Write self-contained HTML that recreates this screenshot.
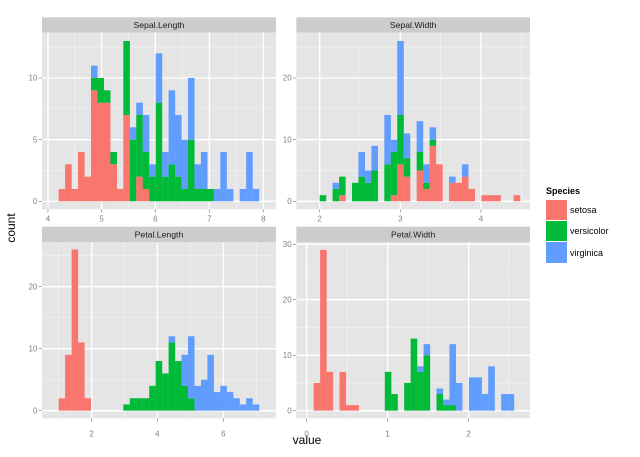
<!DOCTYPE html>
<html><head><meta charset="utf-8"><style>
body{margin:0;background:#fff}
svg{display:block}
text{font-family:"Liberation Sans",sans-serif}
</style></head><body>
<svg id="s" width="640" height="457" xmlns="http://www.w3.org/2000/svg">
<text x="307" y="444" font-size="12" text-anchor="middle">value</text>
<text transform="translate(15,228) rotate(-90)" font-size="12" text-anchor="middle">count</text>
<text x="546" y="194" font-size="9" font-weight="bold">Species</text>
<rect x="546" y="200" width="21" height="20" fill="#F8766D"/>
<rect x="546" y="221" width="21" height="20" fill="#00BA38"/>
<rect x="546" y="242" width="21" height="21" fill="#619CFF"/>
<text x="570" y="213" font-size="9">setosa</text>
<text x="570" y="234" font-size="9">versicolor</text>
<text x="570" y="256" font-size="9">virginica</text>
</svg>
<script>
const NS="http://www.w3.org/2000/svg",S=document.getElementById('s');
const C=["#F8766D","#00BA38","#619CFF"];
const P=[
{o:[0,0],px:[126,828],py:[98,628],sy:52,title:"Sepal.Length",xt:[[144,4],[305,5],[466,6],[628,7],[790,8]],xm:[224.5,385.5,547,709],yt:[[604,0],[419,5],[234,10]],ym:[511.5,326.5,141.5],xl:652,
 x0:176,base:604,k:37,bins:[[1,0,0],[3,0,0],[1,0,0],[4,0,0],[2,0,0],[9,1,1],[8,2,0],[8,1,0],[3,1,0],[1,0,0],[7,6,0],[0,5,1],[2,5,1],[1,3,3],[0,2,1],[0,8,4],[0,2,2],[0,3,6],[0,2,5],[0,1,4],[0,5,5],[0,1,2],[0,1,3],[0,1,0],[0,0,1],[0,0,4],[0,0,1],[0,0,0],[0,0,1],[0,0,4],[0,0,1]]},
{o:[270,0],px:[79,780],py:[98,628],sy:52,title:"Sepal.Width",xt:[[149,2],[391,3],[633,4]],xm:[270,512,754],yt:[[604,0],[419,10],[234,20]],ym:[511.5,326.5,141.5],xl:652,
 x0:149,base:604,k:18.5,bins:[[0,1,0],[0,0,0],[0,2,1],[1,3,0],[0,0,0],[0,3,0],[0,4,4],[0,3,2],[0,5,4],[0,0,0],[0,6,8],[1,7,2],[6,8,12],[4,3,4],[0,0,0],[5,3,5],[2,1,3],[9,1,2],[6,0,0],[0,0,0],[3,0,1],[3,0,0],[4,0,2],[2,0,0],[0,0,0],[1,0,0],[1,0,0],[1,0,0],[0,0,0],[0,0,0],[1,0,0]]},
{o:[0,220],px:[126,828],py:[67,595],sy:20,title:"Petal.Length",xt:[[275,2],[472,4],[670,6]],xm:[176,373,571,769],yt:[[572,0],[386,10],[200,20]],ym:[479,293,107],xl:637,
 x0:176,base:572,k:18.6,bins:[[2,0,0],[9,0,0],[26,0,0],[11,0,0],[2,0,0],[0,0,0],[0,0,0],[0,0,0],[0,0,0],[0,0,0],[0,1,0],[0,2,0],[0,2,0],[0,2,0],[0,4,0],[0,8,0],[0,6,0],[0,11,1],[0,8,0],[0,4,5],[0,2,10],[0,0,4],[0,0,5],[0,0,9],[0,0,3],[0,0,4],[0,0,3],[0,0,2],[0,0,1],[0,0,2],[0,0,1]]},
{o:[270,220],px:[79,780],py:[67,595],sy:20,title:"Petal.Width",xt:[[110,0],[353,1],[596,2]],xm:[231,474,717],yt:[[572,0],[406,10],[239,20],[73,30]],ym:[489,323,156],xl:637,
 x0:131,base:572,k:16.63,bins:[[5,0,0],[29,0,0],[7,0,0],[0,0,0],[7,0,0],[1,0,0],[1,0,0],[0,0,0],[0,0,0],[0,0,0],[0,0,0],[0,7,0],[0,3,0],[0,0,0],[0,5,0],[0,13,0],[0,7,1],[0,10,2],[0,0,0],[0,3,1],[0,1,1],[0,1,11],[0,0,5],[0,0,0],[0,0,6],[0,0,6],[0,0,3],[0,0,8],[0,0,0],[0,0,3],[0,0,3]]}
];
function el(p,n,a,t){const e=document.createElementNS(NS,n);for(const k in a)e.setAttribute(k,a[k]);if(t!=null)e.textContent=t;p.appendChild(e);return e;}
P.forEach(p=>{
 const g=el(S,'g',{transform:`translate(${p.o[0]},${p.o[1]}) scale(0.3333)`});
 const [a,b]=p.px,[c,d]=p.py;
 el(g,'rect',{x:a,y:p.sy,width:b-a,height:c-p.sy,fill:'#CCCCCC'});
 el(g,'text',{x:(a+b)/2,y:p.sy+(c-p.sy)/2+9,'font-size':26,'text-anchor':'middle',fill:'#1a1a1a'},p.title);
 el(g,'rect',{x:a,y:c,width:b-a,height:d-c,fill:'#E5E5E5'});
 p.xm.forEach(x=>el(g,'line',{x1:x,x2:x,y1:c,y2:d,stroke:'#F2F2F2','stroke-width':2}));
 p.ym.forEach(y=>el(g,'line',{x1:a,x2:b,y1:y,y2:y,stroke:'#F2F2F2','stroke-width':2}));
 p.xt.forEach(([x,l])=>{el(g,'line',{x1:x,x2:x,y1:c,y2:d,stroke:'#fff','stroke-width':4});
  el(g,'line',{x1:x,x2:x,y1:d,y2:d+10,stroke:'#7F7F7F','stroke-width':2});
  el(g,'text',{x:x,y:p.xl+12,'font-size':24,'text-anchor':'middle',fill:'#7F7F7F'},l);});
 p.yt.forEach(([y,l])=>{el(g,'line',{x1:a,x2:b,y1:y,y2:y,stroke:'#fff','stroke-width':4});
  el(g,'line',{x1:a-10,x2:a,y1:y,y2:y,stroke:'#7F7F7F','stroke-width':2});
  el(g,'text',{x:a-14,y:y+8,'font-size':24,'text-anchor':'end',fill:'#7F7F7F'},l);});
 const w=19.4;
 p.bins.forEach((bn,i)=>{let y=p.base;const x=p.x0+i*w;
  bn.forEach((n,j)=>{if(n>0){const h=n*p.k;el(g,'rect',{x:x,y:y-h,width:w+0.3,height:h,fill:C[j]});y-=h;}});});
});
</script>
</body></html>
